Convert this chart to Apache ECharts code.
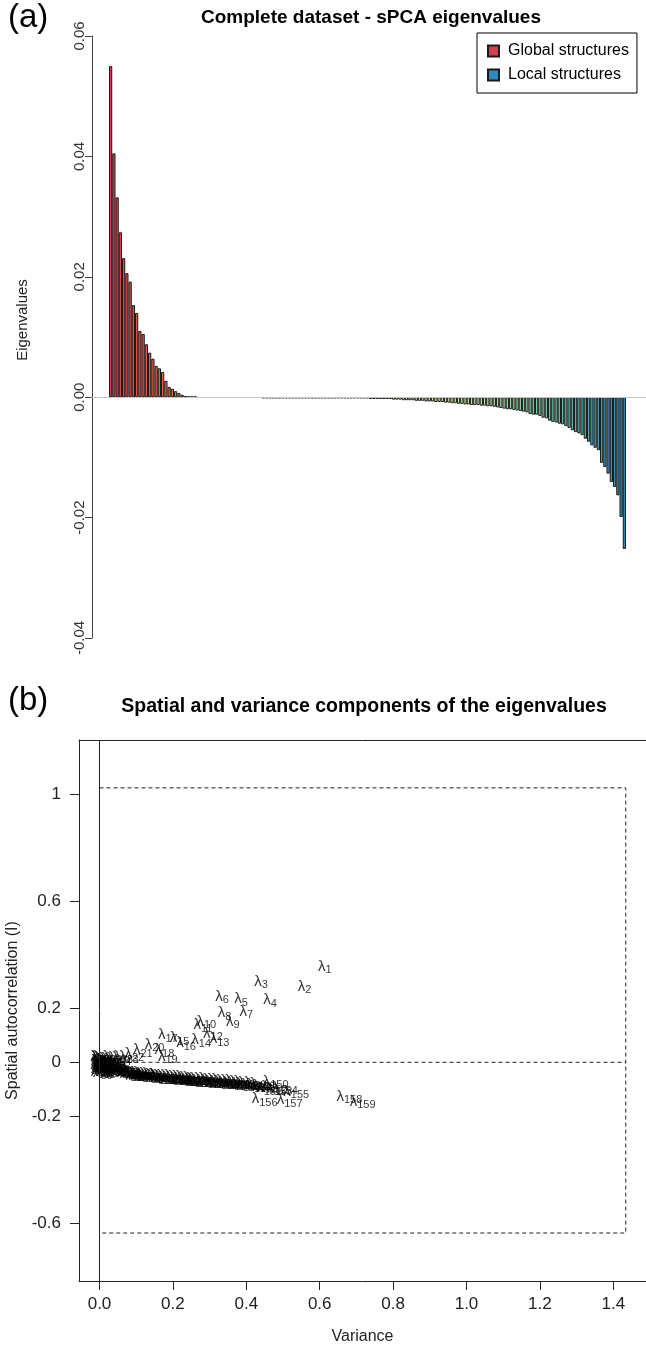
<!DOCTYPE html>
<html>
<head>
<meta charset="utf-8">
<title>sPCA eigenvalues</title>
<script src="https://cdn.jsdelivr.net/npm/echarts@6/dist/echarts.min.js"></script>
<style>
  html, body { margin: 0; padding: 0; background: #fff; }
  #chart { width: 646px; height: 1354px; }
</style>
</head>
<body>
<div id="chart"></div>
<script>
// (a) sPCA eigenvalues, in order (positive = global, negative = local)
var eigenvalues = [
  0.0550, 0.0405, 0.0332, 0.0274, 0.0231, 0.0206, 0.0192, 0.0153, 0.0140, 0.0110,
  0.0105, 0.0088, 0.0074, 0.0064, 0.0052, 0.0048, 0.0042, 0.0027, 0.0017, 0.0014,
  0.0010, 0.0007, 0.0004, 0.0002, 0.0001, 0.0001, 0.0001,
  0, 0, 0, 0, 0, 0, 0, 0, 0, 0, 0, 0, 0, 0, 0, 0, 0, 0, 0, 0,
  -0.0002, -0.0002, -0.0002, -0.0002, -0.0002, -0.0002, -0.0002, -0.0002, -0.0002, -0.0002,
  -0.0002, -0.0002, -0.0002, -0.0002, -0.0002, -0.0002, -0.0002, -0.0002, -0.0002, -0.0002,
  -0.0002, -0.0002, -0.0002, -0.0002, -0.0002, -0.0002, -0.0002, -0.0002, -0.0002,
  -0.0002, -0.0002, -0.0002, -0.0002,
  -0.0003, -0.0003, -0.0003, -0.0003, -0.0003, -0.0003, -0.0003,
  -0.0004, -0.0004, -0.0004,
  -0.0005, -0.0005, -0.0005, -0.0005,
  -0.0006, -0.0006, -0.0006,
  -0.0007, -0.0007, -0.0007,
  -0.0008, -0.0008, -0.0008,
  -0.0009, -0.0009, -0.0010, -0.0010, -0.0011, -0.0011, -0.0012, -0.0012,
  -0.0013, -0.0013, -0.0013, -0.0014, -0.0014, -0.0015, -0.0015,
  -0.0016, -0.0017, -0.0018, -0.0019, -0.0020, -0.0020, -0.0021, -0.0022, -0.0023, -0.0024,
  -0.0025, -0.0028, -0.0029, -0.0029, -0.0031, -0.0034, -0.0035, -0.0039, -0.0041, -0.0042,
  -0.0044, -0.0045, -0.0048, -0.0051, -0.0055, -0.0058, -0.0060, -0.0063, -0.0069, -0.0074,
  -0.0080, -0.0084, -0.0088, -0.0109, -0.0116, -0.0127, -0.0141, -0.0149, -0.0163, -0.0199,
  -0.0252
];

// (b) variance and spatial autocorrelation (Moran's I) of each eigenvector
var variance = [
  0.614, 0.559, 0.440, 0.465, 0.386, 0.334, 0.400, 0.341, 0.363, 0.291,
  0.282, 0.309, 0.327, 0.277, 0.218, 0.236, 0.186, 0.177, 0.186, 0.150,
  0.118, 0.095, 0.080, 0.060, 0.045, 0.030, 0.020,
  0.002, 0.004, 0.008, 0.012, 0.016, 0.003, 0.020, 0.025, 0.035, 0.050, 0.065,
  0.006, 0.010, 0.014, 0.018, 0.022, 0.028, 0.040,
  0.002, 0.005, 0.008, 0.011, 0.015, 0.004, 0.007, 0.012, 0.018, 0.022, 0.026, 0.030, 0.034,
  0.003, 0.009, 0.016, 0.024, 0.032, 0.038, 0.042, 0.046, 0.052, 0.056, 0.060, 0.064, 0.070,
  0.075, 0.080, 0.086, 0.090,
  0.070, 0.074, 0.078, 0.082, 0.086, 0.090, 0.094, 0.098, 0.102, 0.106,
  0.110, 0.114, 0.118, 0.122, 0.126, 0.130, 0.134, 0.138, 0.142, 0.146,
  0.150, 0.155, 0.160, 0.165, 0.170, 0.175, 0.180, 0.185, 0.190, 0.195,
  0.200, 0.205, 0.210, 0.215, 0.220, 0.225, 0.230, 0.235, 0.240, 0.245,
  0.250, 0.255, 0.260, 0.265, 0.270, 0.275, 0.280, 0.286, 0.292, 0.298,
  0.304, 0.310, 0.316, 0.322, 0.328, 0.334, 0.340, 0.346, 0.352, 0.358,
  0.364, 0.370, 0.376, 0.382, 0.388, 0.394, 0.400, 0.406, 0.412, 0.420,
  0.428, 0.436, 0.444, 0.452,
  0.480, 0.462, 0.476, 0.490, 0.505, 0.536, 0.450, 0.518, 0.681, 0.717
];
var moranI = [
  0.357, 0.282, 0.300, 0.232, 0.235, 0.245, 0.189, 0.183, 0.152, 0.152,
  0.139, 0.108, 0.086, 0.083, 0.090, 0.071, 0.102, 0.046, 0.021, 0.065,
  0.046, 0.030, 0.020, 0.015, 0.012, 0.012, 0.010,
  0.020, 0.015, 0.022, 0.018, 0.010, 0.005, 0.004, 0.012, 0.020, 0.018, 0.022,
  -0.005, 0.000, -0.008, 0.006, -0.004, 0.002, 0.008,
  -0.010, -0.015, -0.012, -0.020, -0.016, -0.025, -0.030, -0.028, -0.022, -0.014, -0.024, -0.010, -0.018,
  -0.035, -0.038, -0.034, -0.030, -0.026, -0.020, -0.012, -0.028, -0.022, -0.016, -0.030, -0.024, -0.020,
  -0.034, -0.028, -0.026, -0.036,
  -0.034, -0.040, -0.036, -0.043, -0.037, -0.044, -0.038, -0.045, -0.039, -0.046,
  -0.040, -0.047, -0.041, -0.048, -0.042, -0.049, -0.043, -0.050, -0.044, -0.051,
  -0.045, -0.052, -0.046, -0.053, -0.048, -0.055, -0.049, -0.056, -0.050, -0.057,
  -0.051, -0.058, -0.052, -0.059, -0.054, -0.061, -0.055, -0.062, -0.056, -0.063,
  -0.057, -0.064, -0.058, -0.065, -0.060, -0.067, -0.061, -0.068, -0.062, -0.069,
  -0.063, -0.070, -0.065, -0.072, -0.066, -0.073, -0.067, -0.074, -0.068, -0.075,
  -0.070, -0.077, -0.071, -0.078, -0.072, -0.080, -0.074, -0.081, -0.076, -0.083,
  -0.078, -0.086, -0.080, -0.088,
  -0.072, -0.096, -0.090, -0.098, -0.094, -0.110, -0.138, -0.141, -0.128, -0.147
];

// bounds of the dashed box in (b)
var boxVarMax = 1.434;
var boxIMax = 1.024;
var boxIMin = -0.637;

// tick labels of (b)
var varTicks = [0, 0.2, 0.4, 0.6, 0.8, 1.0, 1.2, 1.4];
var moranTicks = [-0.6, -0.2, 0, 0.2, 0.6, 1];

var FONT = "'Liberation Sans', Arial, sans-serif";
var INK = '#222';

// spectral colour ramp, red -> blue, one colour per bar
var spectral = ['#D53E4F', '#F46D43', '#FDAE61', '#FEE08B', '#FFFFBF', '#E6F598', '#ABDDA4', '#66C2A5', '#3288BD'];
function hexRgb(h) {
  return [parseInt(h.substr(1, 2), 16), parseInt(h.substr(3, 2), 16), parseInt(h.substr(5, 2), 16)];
}
function ramp(t) {
  var p = t * (spectral.length - 1);
  var k = Math.min(Math.floor(p), spectral.length - 2);
  var f = p - k;
  var a = hexRgb(spectral[k]), b = hexRgb(spectral[k + 1]);
  var c = a.map(function (v, j) { return Math.round(v + (b[j] - v) * f); });
  return 'rgb(' + c.join(',') + ')';
}

var n = eigenvalues.length;
var globalBars = [], localBars = [];
eigenvalues.forEach(function (v, i) {
  var item = { value: [i, v], itemStyle: { color: ramp(i / (n - 1)) } };
  if (v === 0) item.itemStyle.borderWidth = 0;   // flat bars hide under the zero line
  (v >= 0 ? globalBars : localBars).push(item);
});

var points = variance.map(function (v, i) { return [v, moranI[i], i + 1]; });

// bar layout: first bar starts 17px right of the axis, last ends 20px before the edge
var barPx = 3.252;
var xMinA = -17 / barPx - 0.5;
var xMaxA = n - 0.5 + 20 / barPx;

// (b) scale: variance 0 sits 20.5px inside the frame, 367px per unit
var xMinB = -20.5 / 367;
var xMaxB = (646 - 99.5) / 367;

var frameAxis = {
  axisLine: { show: true, onZero: false, lineStyle: { color: INK, width: 1 } },
  splitLine: { show: false }
};

var chart = echarts.init(document.getElementById('chart'));
chart.setOption({
  animation: false,
  backgroundColor: '#fff',
  textStyle: { fontFamily: FONT },
  title: [
    { text: '(a)', left: 3, top: -4, textStyle: { fontSize: 33, fontWeight: 'normal', color: '#000', fontFamily: FONT } },
    { text: 'Complete dataset - sPCA eigenvalues', left: 366, top: 3, textAlign: 'center',
      textStyle: { fontSize: 19, fontWeight: 'bold', color: '#000', fontFamily: FONT } },
    { text: '(b)', left: 3, top: 679, textStyle: { fontSize: 33, fontWeight: 'normal', color: '#000', fontFamily: FONT } },
    { text: 'Spatial and variance components of the eigenvalues', left: 359, top: 692, textAlign: 'center',
      textStyle: { fontSize: 19.5, fontWeight: 'bold', color: '#000', fontFamily: FONT } }
  ],
  legend: {
    data: ['Global structures', 'Local structures'],
    orient: 'vertical',
    left: 477, top: 33,
    padding: [10, 8, 10, 10],
    itemGap: 8,
    itemWidth: 11, itemHeight: 11,
    icon: 'rect',
    borderColor: '#000', borderWidth: 1, borderRadius: 0,
    textStyle: { fontSize: 16, color: '#000', fontFamily: FONT, padding: [0, 0, 0, 4] }
  },
  grid: [
    { left: 92, right: 0, top: 36, bottom: 716, outerBoundsMode: 'none', containLabel: false },
    { left: 79, right: 0, top: 740, bottom: 73, outerBoundsMode: 'none', containLabel: false }
  ],
  xAxis: [
    {
      gridIndex: 0, type: 'value', min: xMinA, max: xMaxA, z: 5,
      axisLine: { show: true, onZero: true, lineStyle: { color: '#c4c4c4', width: 1 } },
      axisTick: { show: false }, axisLabel: { show: false }, splitLine: { show: false }
    },
    Object.assign({}, frameAxis, {
      gridIndex: 1, type: 'value', min: xMinB, max: xMaxB, position: 'bottom',
      name: 'Variance', nameLocation: 'middle', nameGap: 48,
      nameTextStyle: { fontSize: 16, color: '#222', fontFamily: FONT },
      axisTick: { show: true, inside: false, length: 9, customValues: varTicks, lineStyle: { color: INK } },
      axisLabel: { customValues: varTicks, margin: 15, fontSize: 17, color: '#222', fontFamily: FONT,
        formatter: function (v) { return v.toFixed(1); } }
    }),
    Object.assign({}, frameAxis, {
      gridIndex: 1, type: 'value', min: xMinB, max: xMaxB, position: 'top',
      axisTick: { show: false }, axisLabel: { show: false }
    })
  ],
  yAxis: [
    {
      gridIndex: 0, type: 'value', min: -0.04, max: 0.06, interval: 0.02,
      name: 'Eigenvalues', nameLocation: 'middle', nameGap: 62,
      nameTextStyle: { fontSize: 15, color: '#222', fontFamily: FONT, padding: [0, 0, 0, 34] },
      axisLine: { show: true, onZero: false, lineStyle: { color: '#444' } },
      axisTick: { show: true, inside: false, length: 7, lineStyle: { color: '#444' } },
      axisLabel: { rotate: 90, margin: 5, fontSize: 15, color: '#333', fontFamily: FONT,
        formatter: function (v) { return v.toFixed(2); } },
      splitLine: { show: false }
    },
    Object.assign({}, frameAxis, {
      gridIndex: 1, type: 'value', min: -0.816, max: 1.2026,
      name: 'Spatial autocorrelation (I)', nameLocation: 'middle', nameGap: 47,
      nameTextStyle: { fontSize: 16, color: '#222', fontFamily: FONT },
      axisTick: { show: true, inside: false, length: 9, customValues: moranTicks, lineStyle: { color: INK } },
      axisLabel: { customValues: moranTicks, margin: 18, fontSize: 17, color: '#222', fontFamily: FONT }
    })
  ],
  series: [
    {
      name: 'Global structures', type: 'bar', xAxisIndex: 0, yAxisIndex: 0,
      barWidth: barPx, barGap: '-100%',
      itemStyle: { color: spectral[0], borderColor: '#1a1a1a', borderWidth: 1 },
      data: globalBars
    },
    {
      name: 'Local structures', type: 'bar', xAxisIndex: 0, yAxisIndex: 0,
      barWidth: barPx, barGap: '-100%',
      itemStyle: { color: spectral[spectral.length - 1], borderColor: '#1a1a1a', borderWidth: 1 },
      data: localBars
    },
    {
      name: 'bounds', type: 'line', xAxisIndex: 1, yAxisIndex: 1,
      symbol: 'none', silent: true,
      lineStyle: { color: INK, width: 1, type: [4, 3] },
      data: [[0, boxIMax], [boxVarMax, boxIMax], [boxVarMax, boxIMin], [0, boxIMin]],
      markLine: {
        symbol: 'none', silent: true, label: { show: false },
        lineStyle: { color: INK, width: 1, type: 'solid' },
        data: [{ xAxis: 0 }]
      }
    },
    {
      name: 'zero', type: 'line', xAxisIndex: 1, yAxisIndex: 1,
      symbol: 'none', silent: true,
      lineStyle: { color: INK, width: 1, type: [4, 3] },
      data: [[0, 0], [boxVarMax, 0]]
    },
    {
      name: 'eigenvalue labels', type: 'scatter', xAxisIndex: 1, yAxisIndex: 1,
      symbolSize: 0, z: 4,
      label: {
        show: true, position: 'inside', color: '#000',
        formatter: function (p) { return '{l|\u03bb}{s|' + p.data[2] + '}'; },
        rich: {
          l: { fontSize: 15, lineHeight: 18, verticalAlign: 'middle', color: '#000', fontFamily: FONT },
          s: { fontSize: 11, lineHeight: 11, verticalAlign: 'bottom', color: '#000', fontFamily: FONT }
        }
      },
      data: points
    }
  ]
});
</script>
</body>
</html>
